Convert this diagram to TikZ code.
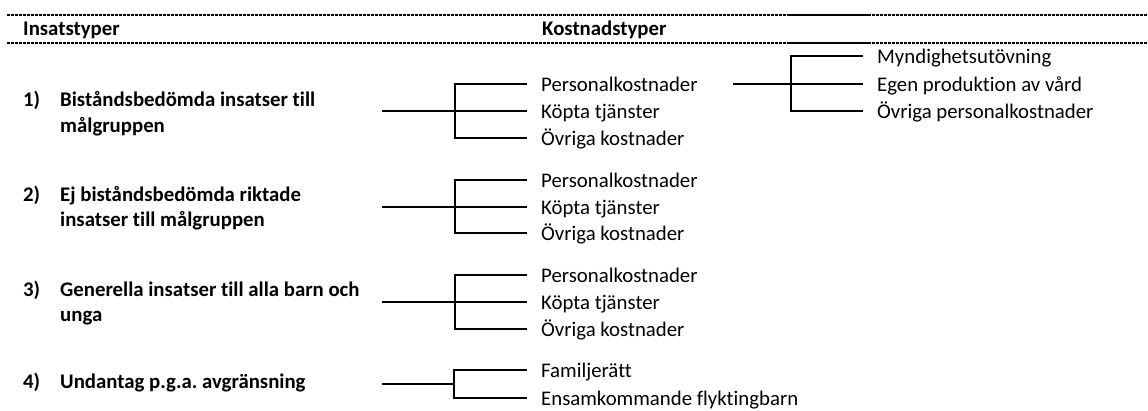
\documentclass[tikz,border=0pt]{standalone}
\usepackage{fontspec}
\setmainfont[Ligatures=NoCommon]{Carlito}
\frenchspacing
\begin{document}
\begin{tikzpicture}[x=1pt,y=-1pt,
  conn/.style={line width=2pt},
  hdr/.style={font=\fontsize{20.8}{25}\selectfont\bfseries, anchor=base west, inner sep=0pt},
  lab/.style={font=\fontsize{20.8}{25}\selectfont\bfseries, anchor=base west, inner sep=0pt},
  item/.style={font=\fontsize{20.8}{25}\selectfont, anchor=west, inner xsep=14pt, inner ysep=0pt, text height=19.8pt, text depth=5pt},
  hrule/.style={line width=1.8pt, dash pattern=on 2.5pt off 1.5pt},
  hsolid/.style={line width=2pt}]
\useasboundingbox (0,0) rectangle (1148,410);
% header rules
\coordinate (t0) at (7,14.7); \coordinate (ta) at (790,14.7); \coordinate (tb) at (868,14.7); \coordinate (t1) at (1148,14.7);
\coordinate (b0) at (7,42.7); \coordinate (ba) at (790,42.7); \coordinate (bb) at (868,42.7); \coordinate (b1) at (1148,42.7);
\draw[hrule] (t0) -- (ta); \draw[hsolid] (ta) -- (tb); \draw[hrule] (tb) -- (t1);
\draw[hrule] (b0) -- (ba); \draw[hsolid] (ba) -- (bb); \draw[hrule] (bb) -- (b1);
\node[hdr] (h1) at (23,35) {Insatstyper};
\node[hdr] (h2) at (542,35) {Kostnadstyper};
% group 1
\node[lab] (n1) at (23,106) {1)};
\node[lab] (g1a) at (60,106) {Biståndsbedömda insatser till};
\node[lab] (g1b) at (60,132) {målgruppen};
\coordinate (s1) at (382,111);
\coordinate (j1) at (455,111);
\node[item] (p1) at (527,84.3) {Personalkostnader};
\node[item] (k1) at (527,111) {Köpta tjänster};
\node[item] (o1) at (527,138.3) {Övriga kostnader};
\draw[conn] (s1) -- (k1.west);
\draw[conn] (p1.west) -| (j1) |- (o1.west);
% sub bracket
\coordinate (s5) at (733,84.3);
\coordinate (j5) at (790.7,84.3);
\node[item] (m5) at (863,56) {Myndighetsutövning};
\node[item] (e5) at (863,84.3) {Egen produktion av vård};
\node[item] (v5) at (863,111) {Övriga personalkostnader};
\draw[conn] (s5) -- (e5.west);
\draw[conn] (m5.west) -| (j5) |- (v5.west);
% group 2
\node[lab] (n2) at (23,201.7) {2)};
\node[lab] (g2a) at (60,201.7) {Ej biståndsbedömda riktade};
\node[lab] (g2b) at (60,226.7) {insatser till målgruppen};
\coordinate (s2) at (382,206.7);
\coordinate (j2) at (455,206.7);
\node[item] (p2) at (527,180) {Personalkostnader};
\node[item] (k2) at (527,206.7) {Köpta tjänster};
\node[item] (o2) at (527,233.3) {Övriga kostnader};
\draw[conn] (s2) -- (k2.west);
\draw[conn] (p2.west) -| (j2) |- (o2.west);
% group 3
\node[lab] (n3) at (23,296.7) {3)};
\node[lab] (g3a) at (60,296.7) {Generella insatser till alla barn och};
\node[lab] (g3b) at (60,321.7) {unga};
\coordinate (s3) at (382,302);
\coordinate (j3) at (455,302);
\node[item] (p3) at (527,275) {Personalkostnader};
\node[item] (k3) at (527,302) {Köpta tjänster};
\node[item] (o3) at (527,329) {Övriga kostnader};
\draw[conn] (s3) -- (k3.west);
\draw[conn] (p3.west) -| (j3) |- (o3.west);
% group 4
\node[lab] (n4) at (23,388.3) {4)};
\node[lab] (g4a) at (60,388.3) {Undantag p.g.a. avgränsning};
\coordinate (s4) at (382,384);
\coordinate (j4) at (454,384);
\node[item] (f4) at (527,370) {Familjerätt};
\node[item] (e4) at (527,398.3) {Ensamkommande flyktingbarn};
\draw[conn] (s4) -- (j4);
\draw[conn] (f4.west) -| (j4) |- (e4.west);
\end{tikzpicture}
\end{document}
